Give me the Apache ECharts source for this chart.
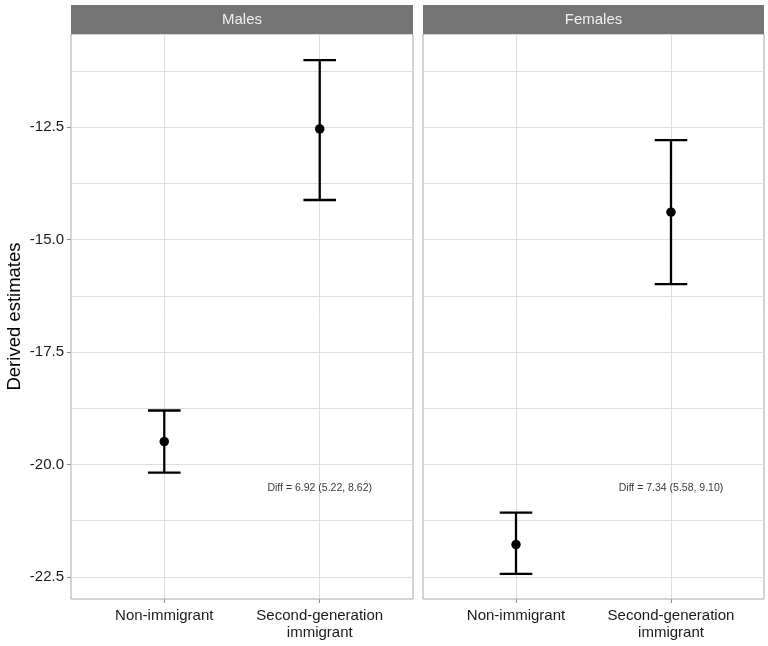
<!DOCTYPE html>
<html>
<head>
<meta charset="utf-8">
<script src="https://cdn.jsdelivr.net/npm/echarts@6/dist/echarts.min.js"></script>
<style>
  html, body { margin: 0; padding: 0; background: #fff; }
  #chart { width: 768px; height: 646px; }
</style>
</head>
<body>
<div id="chart"></div>
<script>
// data
const panels = ['Males', 'Females']
const categories = ['Non-immigrant', 'Second-generation\nimmigrant']
const xPos = [1, 2]

const malesEst = [-19.49, -12.54]
const malesLower = [-20.18, -14.12]
const malesUpper = [-18.80, -11.01]

const femalesEst = [-21.78, -14.39]
const femalesLower = [-22.43, -15.99]
const femalesUpper = [-21.07, -12.79]

const diffLabels = ['Diff = 6.92 (5.22, 8.62)', 'Diff = 7.34 (5.58, 9.10)']
const diffX = 2
const diffY = -20.53

const yMajor = [-22.5, -20, -17.5, -15, -12.5]
const yMinor = [-21.25, -18.75, -16.25, -13.75, -11.25]
const yMin = -22.99
const yMax = -10.43

const font = 'Liberation Sans, Arial, sans-serif'
const gridColor = '#DEDEDE'
const borderColor = '#A8A8A8'
const capWidth = 0.21

const panelLeft = [71, 423]
const panelWidth = [342, 341]
const panelTop = 34
const panelHeight = 565

const chart = echarts.init(document.getElementById('chart'), null, { renderer: 'canvas' })

const grids = panels.map((p, i) => ({
  left: panelLeft[i],
  top: panelTop,
  width: panelWidth[i],
  height: panelHeight,
  show: true,
  borderColor: borderColor,
  borderWidth: 1,
  backgroundColor: '#fff',
}))

const xAxes = panels.map((p, i) => ({
  type: 'value',
  gridIndex: i,
  min: 0.4,
  max: 2.6,
  axisLine: { show: false },
  axisTick: { show: true, customValues: xPos, length: 4, lineStyle: { color: '#8C8C8C' } },
  axisLabel: {
    customValues: xPos,
    formatter: (v) => categories[Math.round(v) - 1] || '',
    fontFamily: font,
    fontSize: 15,
    lineHeight: 17,
    color: '#1A1A1A',
    margin: 8,
  },
  splitLine: { show: true, lineStyle: { color: gridColor, width: 1 } },
}))

const yAxes = []
panels.forEach((p, i) => {
  yAxes.push({
    type: 'value',
    gridIndex: i,
    min: yMin,
    max: yMax,
    name: i === 0 ? 'Derived estimates' : '',
    nameLocation: 'middle',
    nameGap: 47,
    nameTextStyle: { fontFamily: font, fontSize: 18.5, color: '#000' },
    axisLine: { show: false },
    axisTick: { show: i === 0, customValues: yMajor, length: 4, lineStyle: { color: '#8C8C8C' } },
    axisLabel: {
      show: i === 0,
      customValues: yMajor,
      formatter: (v) => v.toFixed(1),
      fontFamily: font,
      fontSize: 15,
      color: '#1A1A1A',
      margin: 7,
    },
    splitLine: { show: true, lineStyle: { color: gridColor, width: 1 } },
  })
  yAxes.push({
    type: 'value',
    gridIndex: i,
    position: 'right',
    min: yMin,
    max: yMax,
    axisLine: { show: false },
    axisTick: { show: false, customValues: yMinor },
    axisLabel: { show: false, customValues: yMinor },
    splitLine: { show: true, lineStyle: { color: gridColor, width: 1 } },
  })
})

const estimates = [malesEst, femalesEst]
const lowers = [malesLower, femalesLower]
const uppers = [malesUpper, femalesUpper]

const renderErrorBar = (params, api) => {
  const x = api.value(0)
  const top = api.coord([x, api.value(2)])
  const bot = api.coord([x, api.value(1)])
  const hw = api.size([capWidth, 0])[0] / 2
  const style = { stroke: '#000', lineWidth: 2.3 }
  return {
    type: 'group',
    children: [
      { type: 'line', shape: { x1: top[0], y1: top[1], x2: bot[0], y2: bot[1] }, style },
      { type: 'line', shape: { x1: top[0] - hw, y1: top[1], x2: top[0] + hw, y2: top[1] }, style },
      { type: 'line', shape: { x1: bot[0] - hw, y1: bot[1], x2: bot[0] + hw, y2: bot[1] }, style },
    ],
  }
}

const series = []
panels.forEach((p, i) => {
  series.push({
    type: 'custom',
    xAxisIndex: i,
    yAxisIndex: i * 2,
    renderItem: renderErrorBar,
    data: xPos.map((x, k) => [x, lowers[i][k], uppers[i][k]]),
    z: 3,
  })
  series.push({
    type: 'scatter',
    xAxisIndex: i,
    yAxisIndex: i * 2,
    symbolSize: 9.5,
    itemStyle: { color: '#000', opacity: 1 },
    data: xPos.map((x, k) => [x, estimates[i][k]]),
    z: 4,
  })
  series.push({
    type: 'scatter',
    xAxisIndex: i,
    yAxisIndex: i * 2,
    symbolSize: 0,
    label: {
      show: true,
      position: 'inside',
      formatter: diffLabels[i],
      fontFamily: font,
      fontSize: 10.5,
      color: '#000',
    },
    data: [[diffX, diffY]],
    z: 5,
  })
})

const stripElems = []
panels.forEach((p, i) => {
  stripElems.push({
    type: 'rect',
    shape: { x: panelLeft[i], y: 5, width: panelWidth[i], height: 29 },
    style: { fill: '#747474' },
  })
  stripElems.push({
    type: 'text',
    x: panelLeft[i] + panelWidth[i] / 2,
    y: 19.5,
    style: {
      text: p,
      fill: '#F2F2F2',
      fontFamily: font,
      fontSize: 15,
      align: 'center',
      verticalAlign: 'middle',
    },
  })
})

chart.setOption({
  animation: false,
  backgroundColor: '#fff',
  grid: grids,
  xAxis: xAxes,
  yAxis: yAxes,
  series: series,
  graphic: stripElems,
})
</script>
</body>
</html>
